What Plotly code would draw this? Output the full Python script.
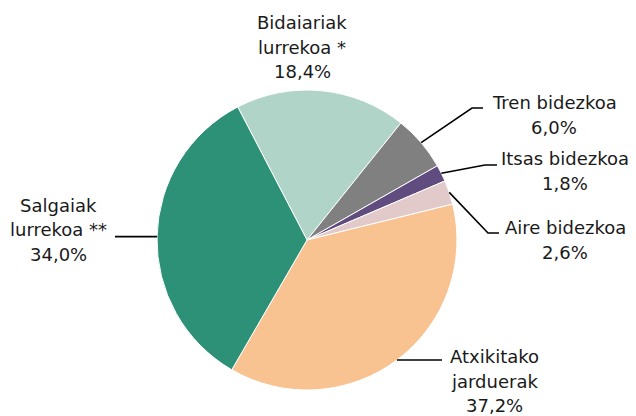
import math
import plotly.graph_objects as go

# ---- data ----
labels = ["Bidaiariak<br>lurrekoa *", "Tren bidezkoa", "Itsas bidezkoa",
          "Aire bidezkoa", "Atxikitako<br>jarduerak", "Salgaiak<br>lurrekoa **"]
values = [18.4, 6.0, 1.8, 2.6, 37.2, 34.0]
value_text = ["18,4%", "6,0%", "1,8%", "2,6%", "37,2%", "34,0%"]

# ---- style / layout ----
colors = ["#B0D5C8", "#808080", "#604C7E", "#E3CACA", "#F9C291", "#2C9177"]
OFF = 8                               # page body margin in the browser
W, H = 636 - OFF, 416 - OFF
CX, CY, R = 307, 240, 150             # pie centre / radius (window px)
ROTATION = -27.5
LINE_H = 24.5
# label text centre (window px) and elbow point of leader (px, or None)
label_pos = [(302, 47), (554, 115), (565, 171), (565, 240), (494, 381), (58, 230)]
elbows = [None, (472, 108), (485, 165), (488, 233), None, None]
ends = [None, (483, 108), (497, 165), (499, 233), (442, 360), (115, 237)]
FONT = dict(family="DejaVu Sans", size=18, color="#1a1a1a")


def px(x):
    return (x - OFF) / W


def py(y):
    return 1 - (y - OFF) / H


fig = go.Figure(go.Pie(
    labels=[l.replace("<br>", " ") for l in labels], values=values, sort=False,
    direction="clockwise", rotation=ROTATION, textinfo="none",
    hoverinfo="label+value",
    marker=dict(colors=colors, line=dict(color="white", width=1)),
    domain=dict(x=[px(CX - R), px(CX + R)], y=[py(CY + R), py(CY - R)]),
    showlegend=False,
))

total = sum(values)
cum = 0.0
annotations, shapes = [], []
for i, v in enumerate(values):
    mid = ROTATION + 360 * (cum + v / 2) / total
    cum += v
    a = math.radians(mid)
    ex, ey = CX + R * math.sin(a), CY - R * math.cos(a)
    tx, ty = label_pos[i]
    lines = labels[i].split("<br>") + [value_text[i]]
    n = len(lines)
    for k, line in enumerate(lines):
        yy = ty + (k - (n - 1) / 2) * LINE_H
        annotations.append(dict(
            x=px(tx), y=py(yy), xref="paper", yref="paper",
            text=line, showarrow=False,
            xanchor="center", yanchor="middle", align="center", font=FONT))
    if ends[i] is not None:
        pts = [(ex, ey)]
        if elbows[i] is not None:
            pts.append(elbows[i])
        pts.append((ends[i][0], ends[i][1] if elbows[i] is not None else ey))
        path = "M " + " L ".join(f"{px(x):.5f},{py(y):.5f}" for x, y in pts)
        shapes.append(dict(type="path", path=path, xref="paper", yref="paper",
                           line=dict(color="#000000", width=1.6)))

fig.update_layout(
    width=W, height=H, margin=dict(l=0, r=0, t=0, b=0),
    paper_bgcolor="white", plot_bgcolor="white",
    annotations=annotations, shapes=shapes,
)
fig.write_html("out.html")
